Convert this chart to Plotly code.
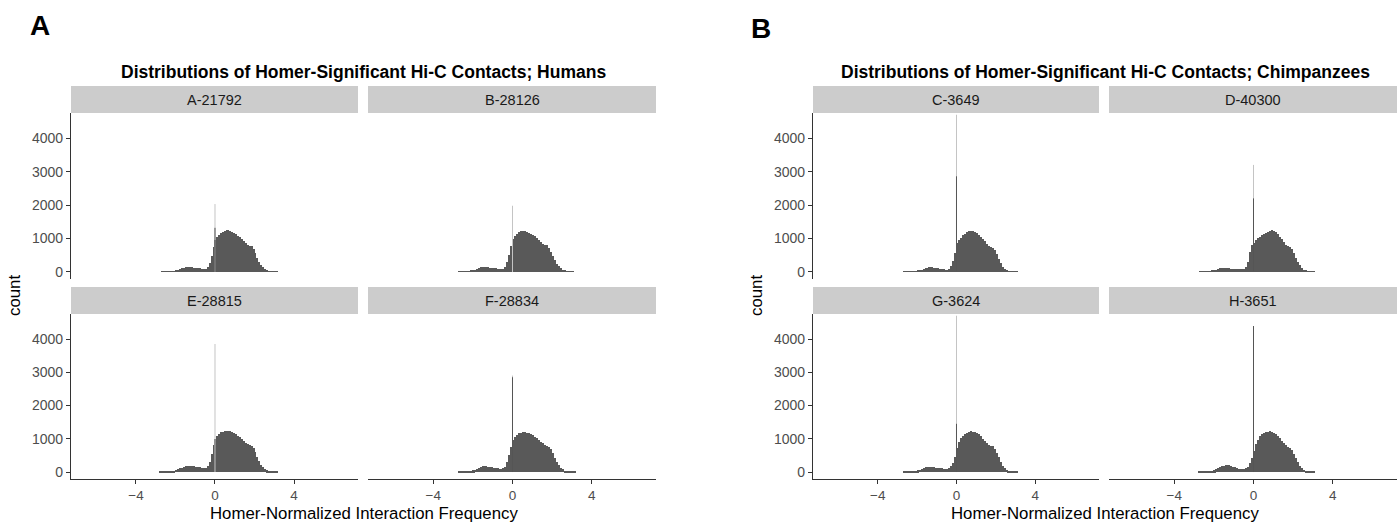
import numpy as np
import plotly.graph_objects as go

# ---------------- data ----------------
BIN_CENTERS = np.round(np.arange(-2.95, 3.46, 0.1), 2)  # 65 bins of width 0.1
BIN_WIDTH = 0.1
SPIKE_X = 0.0

SAMPLES = ["A-21792", "B-28126", "E-28815", "F-28834",
           "C-3649", "D-40300", "G-3624", "H-3651"]

A_21792 = [0, 0, 0, 1, 2, 4, 7, 12, 18, 26,
           40, 60, 82, 110, 130, 145, 152, 150, 140, 130,
           122, 112, 105, 98, 95, 100, 140, 270, 480, 740,
           960, 1060, 1120, 1170, 1200, 1230, 1240, 1215, 1190, 1165,
           1130, 1090, 1040, 990, 940, 880, 820, 780, 770, 680,
           560, 430, 310, 210, 135, 85, 48, 26, 12, 5,
           2, 1, 0, 0, 0]
B_28126 = [0, 0, 0, 1, 2, 4, 8, 14, 22, 32,
           50, 72, 98, 125, 145, 155, 150, 140, 130, 122,
           115, 108, 102, 98, 96, 102, 150, 300, 520, 780,
           980, 1080, 1140, 1190, 1220, 1235, 1225, 1200, 1175, 1150,
           1110, 1070, 1020, 970, 910, 850, 800, 800, 720, 610,
           480, 360, 250, 165, 105, 62, 35, 18, 8, 3,
           1, 0, 0, 0, 0]
E_28815 = [0, 0, 1, 2, 4, 7, 11, 18, 28, 42,
           62, 85, 110, 135, 155, 168, 178, 182, 178, 168,
           155, 145, 138, 132, 130, 135, 170, 310, 540, 820,
           1000, 1090, 1150, 1190, 1215, 1230, 1235, 1225, 1200, 1170,
           1130, 1090, 1040, 990, 940, 880, 830, 800, 790, 720,
           600, 460, 330, 220, 140, 85, 50, 28, 13, 5,
           2, 1, 0, 0, 0]
F_28834 = [0, 0, 0, 1, 3, 5, 9, 15, 23, 34,
           50, 72, 100, 130, 155, 168, 172, 165, 152, 140,
           128, 118, 110, 105, 102, 108, 150, 290, 500, 760,
           950, 1050, 1110, 1160, 1185, 1200, 1200, 1185, 1160, 1135,
           1100, 1060, 1010, 960, 910, 860, 800, 770, 760, 680,
           560, 430, 310, 205, 130, 78, 45, 24, 11, 4,
           2, 1, 0, 0, 0]
C_3649 = [0, 0, 0, 1, 2, 3, 5, 9, 14, 22,
          34, 50, 70, 95, 118, 132, 140, 140, 132, 120,
          108, 96, 86, 78, 72, 70, 100, 180, 330, 560,
          870, 950, 1030, 1100, 1150, 1185, 1210, 1220, 1215, 1195,
          1165, 1120, 1060, 990, 920, 850, 790, 740, 720, 650,
          530, 390, 260, 160, 92, 50, 26, 12, 5, 2,
          1, 0, 0, 0, 0]
D_40300 = [0, 0, 0, 1, 2, 4, 7, 12, 20, 30,
           46, 66, 90, 110, 120, 122, 118, 110, 102, 95,
           90, 86, 84, 83, 85, 95, 140, 300, 600, 800,
           880, 950, 1010, 1060, 1100, 1140, 1170, 1200, 1225, 1240,
           1230, 1190, 1130, 1060, 980, 900, 820, 770, 760, 690,
           570, 430, 300, 195, 120, 70, 38, 20, 9, 3,
           1, 0, 0, 0, 0]
G_3624 = [0, 0, 0, 1, 2, 4, 7, 12, 20, 30,
          46, 66, 92, 118, 138, 150, 152, 148, 140, 130,
          120, 112, 106, 102, 100, 100, 115, 170, 280, 450,
          720, 900, 1010, 1090, 1140, 1180, 1205, 1220, 1215, 1200,
          1170, 1130, 1070, 1000, 930, 860, 800, 780, 770, 700,
          580, 440, 305, 195, 120, 70, 38, 20, 9, 3,
          1, 0, 0, 0, 0]
H_3651 = [0, 0, 1, 2, 4, 6, 10, 16, 25, 38,
          58, 82, 112, 145, 172, 192, 200, 198, 185, 165,
          142, 120, 102, 92, 88, 92, 110, 160, 260, 420,
          620, 830, 970, 1070, 1130, 1170, 1200, 1215, 1220, 1205,
          1175, 1135, 1075, 1010, 940, 870, 800, 750, 720, 660,
          550, 420, 290, 185, 115, 66, 36, 19, 8, 3,
          1, 0, 0, 0, 0]

COUNTS = [A_21792, B_28126, E_28815, F_28834, C_3649, D_40300, G_3624, H_3651]

# spike at zero: faint (antialiased) top and solid part
SPIKE_LIGHT = [2030, 1980, 3850, 2900, 4700, 3200, 4700, 4390]
SPIKE_DARK = [1320, 0, 0, 2850, 2860, 2200, 1450, 4390]

Y_TICKS = [0, 1000, 2000, 3000, 4000]
X_TICKS = [-4, 0, 4]
TITLES = ["Distributions of Homer-Significant Hi-C Contacts; Humans",
          "Distributions of Homer-Significant Hi-C Contacts; Chimpanzees"]

# ---------------- layout geometry ----------------
W, H = 1398, 525
def px(x): return x / W
def py(y): return 1 - y / H

COLS = [(71, 358), (368, 656), (813, 1099), (1109, 1397)]
ROWS = [(113, 279), (314, 479)]
STRIPS = [(86, 113), (287, 314)]
# panel order -> (row, col)
POS = [(0, 0), (0, 1), (1, 0), (1, 1), (0, 2), (0, 3), (1, 2), (1, 3)]

FILL = "#595959"
FONT = "Liberation Sans, Arial, sans-serif"

fig = go.Figure()
layout = dict(
    width=W, height=H, margin=dict(l=0, r=0, t=0, b=0),
    paper_bgcolor="white", plot_bgcolor="white", showlegend=False,
    bargap=0, font=dict(family=FONT, color="#000000"),
)
shapes = []
annotations = []

for i, (name, counts) in enumerate(zip(SAMPLES, COUNTS)):
    r, c = POS[i]
    k = i + 1
    xa, ya = f"x{k}", f"y{k}"
    fig.add_trace(go.Bar(x=BIN_CENTERS, y=counts, width=BIN_WIDTH,
                         marker=dict(color=FILL, line=dict(width=0)),
                         xaxis=xa, yaxis=ya, hoverinfo="x+y"))
    fig.add_trace(go.Scatter(x=[SPIKE_X, SPIKE_X], y=[0, SPIKE_LIGHT[i]],
                             mode="lines", line=dict(color="#c4c4c4", width=1),
                             xaxis=xa, yaxis=ya))
    if SPIKE_DARK[i] > 0:
        fig.add_trace(go.Scatter(x=[SPIKE_X, SPIKE_X], y=[0, SPIKE_DARK[i]],
                                 mode="lines", line=dict(color="#555555", width=1),
                                 xaxis=xa, yaxis=ya))
    x0, x1 = COLS[c]
    y0, y1 = ROWS[r]
    bottom = (r == 1)
    left = c in (0, 2)
    layout[f"xaxis{k}"] = dict(
        domain=[px(x0), px(x1)], range=[-7.29, 7.24], anchor=ya,
        showgrid=False, zeroline=False,
        showline=bottom, linecolor="#333333", linewidth=1.3,
        ticks="outside" if bottom else "", ticklen=4, tickcolor="#333333",
        tickwidth=1.1,
        tickvals=X_TICKS, showticklabels=bottom,
        tickfont=dict(size=13.5, color="#4d4d4d", family=FONT),
    )
    layout[f"yaxis{k}"] = dict(
        domain=[py(y1), py(y0)], range=[-210, 4752], anchor=xa,
        showgrid=False, zeroline=False,
        showline=left, linecolor="#333333", linewidth=1.3,
        ticks="outside" if left else "", ticklen=4, tickcolor="#333333",
        tickwidth=1.1,
        tickvals=Y_TICKS, showticklabels=left,
        tickfont=dict(size=14, color="#4d4d4d", family=FONT),
    )
    sy0, sy1 = STRIPS[r]
    shapes.append(dict(type="rect", xref="paper", yref="paper",
                       x0=px(x0), x1=px(x1), y0=py(sy1), y1=py(sy0),
                       fillcolor="#cccccc", line=dict(width=0), layer="below"))
    annotations.append(dict(text=name, xref="paper", yref="paper",
                            x=px((x0 + x1) / 2), y=py((sy0 + sy1) / 2),
                            xanchor="center", yanchor="middle", showarrow=False,
                            font=dict(size=14.5, color="#1a1a1a", family=FONT)))

# panel titles, axis titles, panel letters
for p, (title, (cl, cr)) in enumerate(zip(TITLES, [(COLS[0][0], COLS[1][1]),
                                                   (COLS[2][0], COLS[3][1])])):
    mid = (cl + cr) / 2
    annotations.append(dict(text=f"<b>{title}</b>", xref="paper", yref="paper",
                            x=px(mid), y=py(72), xanchor="center", yanchor="middle",
                            showarrow=False, font=dict(size=17.5, color="#000000", family=FONT)))
    annotations.append(dict(text="Homer-Normalized Interaction Frequency",
                            xref="paper", yref="paper", x=px(mid), y=py(513),
                            xanchor="center", yanchor="middle", showarrow=False,
                            font=dict(size=16.8, color="#000000", family=FONT)))
    annotations.append(dict(text="count", xref="paper", yref="paper",
                            x=px(cl - 57), y=py(296), xanchor="center", yanchor="middle",
                            textangle=-90, showarrow=False,
                            font=dict(size=16.8, color="#000000", family=FONT)))

annotations.append(dict(text="<b>A</b>", xref="paper", yref="paper", x=px(40), y=py(25),
                        xanchor="center", yanchor="middle", showarrow=False,
                        font=dict(size=28, color="#000000", family=FONT)))
annotations.append(dict(text="<b>B</b>", xref="paper", yref="paper", x=px(761), y=py(29),
                        xanchor="center", yanchor="middle", showarrow=False,
                        font=dict(size=28, color="#000000", family=FONT)))

layout["shapes"] = shapes
layout["annotations"] = annotations
fig.update_layout(**layout)
fig.write_html("out.html")
